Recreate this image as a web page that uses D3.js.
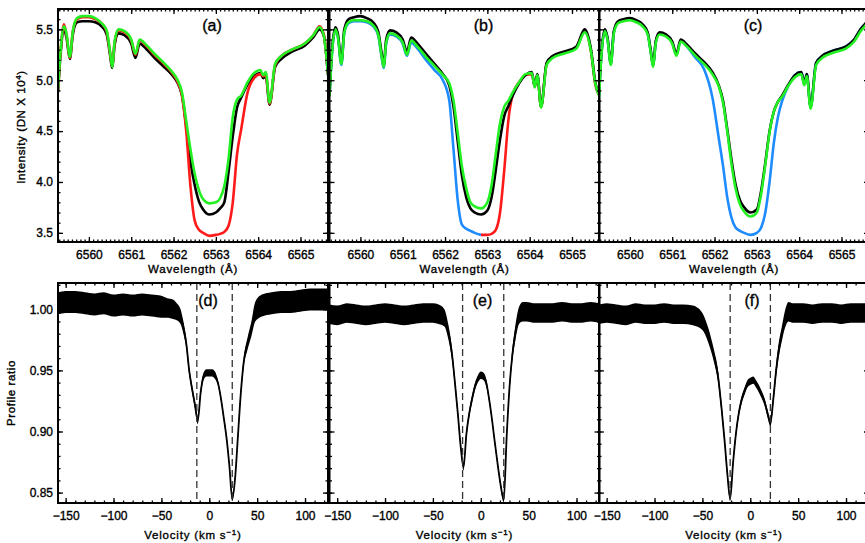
<!DOCTYPE html>
<html>
<head>
<meta charset="utf-8">
<script src="https://cdn.jsdelivr.net/npm/d3@7"></script>
<style>
body { margin: 0; background: #fff; }
text { font-family: "Liberation Sans", Arial, sans-serif; fill: #000; stroke: #000; stroke-width: 0.35px; }
</style>
</head>
<body>
<svg width="865" height="543"></svg>
<script>
// ---- top row: H-alpha profiles (intensity, DN x 10^4) ----
var wavelength = [6559.27,6559.33,6559.41,6559.47,6559.55,6559.62,6559.72,6559.85,6560.00,6560.15,
  6560.30,6560.42,6560.49,6560.55,6560.61,6560.70,6560.85,6561.00,6561.10,6561.20,
  6561.35,6561.55,6561.75,6561.95,6562.10,6562.20,6562.30,6562.40,6562.50,6562.60,
  6562.70,6562.85,6563.00,6563.10,6563.20,6563.30,6563.40,6563.50,6563.60,6563.75,
  6563.90,6564.05,6564.12,6564.18,6564.27,6564.40,6564.55,6564.80,6565.10,6565.30,
  6565.45,6565.55,6565.65];

var blackA = [4.88,5.25,5.50,5.42,5.21,5.45,5.57,5.58,5.58,5.57,
  5.53,5.45,5.28,5.12,5.35,5.46,5.44,5.36,5.22,5.36,
  5.31,5.22,5.14,5.06,4.97,4.85,4.55,4.20,3.97,3.81,
  3.73,3.68,3.70,3.74,3.80,4.10,4.45,4.73,4.83,4.96,
  5.04,5.07,5.02,5.04,4.76,5.13,5.21,5.28,5.34,5.42,
  5.50,5.44,5.05];
var redA = [4.90,5.28,5.55,5.45,5.22,5.48,5.60,5.62,5.62,5.60,
  5.56,5.48,5.30,5.14,5.38,5.49,5.47,5.39,5.25,5.39,
  5.34,5.25,5.17,5.08,4.98,4.85,4.50,3.96,3.62,3.53,
  3.50,3.47,3.48,3.49,3.51,3.57,3.80,4.27,4.52,4.88,
  5.02,5.06,5.04,5.05,4.77,5.15,5.24,5.30,5.36,5.44,
  5.53,5.45,5.06];
var greenA = [4.90,5.28,5.53,5.46,5.23,5.48,5.61,5.63,5.63,5.61,
  5.56,5.49,5.31,5.13,5.39,5.50,5.48,5.40,5.26,5.40,
  5.35,5.26,5.18,5.09,5.00,4.88,4.60,4.32,4.08,3.92,
  3.83,3.79,3.80,3.84,3.96,4.23,4.64,4.81,4.85,4.98,
  5.07,5.10,5.05,5.08,4.78,5.16,5.24,5.30,5.36,5.44,
  5.52,5.44,5.05];

var blackB = [4.86,5.30,5.52,5.45,5.18,5.50,5.60,5.62,5.63,5.61,
  5.57,5.48,5.30,5.15,5.40,5.49,5.47,5.40,5.28,5.42,
  5.36,5.26,5.16,5.06,4.95,4.74,4.40,4.06,3.85,3.74,
  3.70,3.68,3.72,3.85,4.12,4.42,4.65,4.75,4.85,4.97,
  5.05,5.08,4.94,5.06,4.74,5.17,5.24,5.28,5.33,5.50,
  5.30,4.98,4.85];
var greenB = [4.84,5.27,5.50,5.42,5.16,5.47,5.57,5.59,5.59,5.58,
  5.54,5.45,5.27,5.13,5.37,5.46,5.44,5.37,5.25,5.39,
  5.33,5.23,5.14,5.05,4.97,4.80,4.48,4.15,3.94,3.80,
  3.76,3.74,3.80,3.97,4.28,4.58,4.74,4.80,4.88,4.98,
  5.06,5.07,4.93,5.05,4.73,5.15,5.22,5.26,5.31,5.47,
  5.28,4.97,4.84];
// reference profile of panel (b): blue on the blue wing, red on the red wing
var lowB = [4.84,5.27,5.49,5.42,5.15,5.47,5.56,5.58,5.58,5.57,
  5.53,5.44,5.26,5.12,5.36,5.45,5.43,5.36,5.24,5.37,
  5.31,5.20,5.10,5.00,4.80,4.32,3.82,3.58,3.54,3.52,
  3.50,3.48,3.48,3.49,3.53,3.70,4.12,4.62,4.86,4.98,
  5.05,5.06,4.94,5.05,4.74,5.16,5.23,5.27,5.32,5.48,
  5.28,4.96,4.85];
var splitB = 6562.85;

var blackC = [4.85,5.28,5.50,5.42,5.17,5.48,5.58,5.60,5.61,5.59,
  5.55,5.47,5.30,5.15,5.38,5.47,5.45,5.38,5.26,5.40,
  5.35,5.26,5.18,5.08,4.95,4.80,4.52,4.22,3.97,3.82,
  3.75,3.70,3.73,3.91,4.19,4.50,4.69,4.79,4.85,4.96,
  5.05,5.08,4.97,5.06,4.74,5.17,5.24,5.29,5.33,5.40,
  5.50,5.55,5.60];
var greenC = [4.83,5.26,5.48,5.40,5.15,5.46,5.56,5.58,5.59,5.57,
  5.53,5.45,5.28,5.13,5.36,5.45,5.43,5.36,5.24,5.38,
  5.33,5.24,5.16,5.06,4.94,4.78,4.50,4.18,3.93,3.78,
  3.71,3.66,3.70,3.88,4.17,4.49,4.69,4.79,4.84,4.95,
  5.03,5.06,4.95,5.04,4.72,5.15,5.22,5.27,5.31,5.38,
  5.48,5.53,5.58];
var blueC = [4.84,5.27,5.49,5.41,5.16,5.47,5.57,5.59,5.60,5.58,
  5.54,5.46,5.29,5.14,5.37,5.46,5.44,5.37,5.25,5.39,
  5.33,5.22,5.11,4.83,4.43,4.16,3.85,3.65,3.55,3.52,
  3.50,3.48,3.50,3.55,3.70,4.00,4.38,4.64,4.80,4.95,
  5.05,5.08,4.97,5.06,4.74,5.17,5.24,5.29,5.33,5.40,
  5.50,5.55,5.60];

// ---- bottom row: profile ratio vs velocity ----
var velocity = [-158,-150,-140,-130,-120,-110,-100,-90,-80,-70,
  -60,-50,-44,-38,-34,-30,-27,-24,-21,-18,
  -15,-12,-9,-6,-3,0,3,6,9,12,
  15,18,21,24,27,30,33,36,40,44,
  48,55,65,75,85,95,105,115,124];

var ratioD = [1.005,1.006,1.006,1.005,1.004,1.005,1.003,1.004,1.003,1.004,
  1.003,1.002,1.001,1.000,0.998,0.994,0.985,0.972,0.950,0.935,
  0.922,0.909,0.932,0.945,0.948,0.948,0.948,0.946,0.940,0.928,
  0.912,0.895,0.872,0.845,0.862,0.897,0.932,0.957,0.972,0.984,
  0.998,1.003,1.005,1.006,1.006,1.007,1.008,1.008,1.008];
var noiseD = [0.009,0.009,0.009,0.009,0.009,0.009,0.009,0.009,0.009,0.009,
  0.009,0.009,0.008,0.008,0.007,0.006,0.005,0.004,0.003,0.003,
  0.003,0.003,0.003,0.003,0.003,0.003,0.003,0.003,0.002,0.002,
  0.002,0.002,0.002,0.002,0.002,0.003,0.003,0.004,0.005,0.006,
  0.008,0.009,0.009,0.009,0.009,0.009,0.009,0.009,0.009];

var ratioE = [0.996,0.995,0.997,0.996,0.995,0.996,0.997,0.996,0.995,0.996,
  0.997,0.997,0.996,0.993,0.982,0.963,0.940,0.915,0.888,0.871,
  0.898,0.915,0.927,0.937,0.943,0.946,0.945,0.939,0.925,0.908,
  0.889,0.871,0.855,0.844,0.895,0.936,0.963,0.980,0.995,0.998,
  0.998,0.997,0.997,0.997,0.998,0.997,0.997,0.998,0.997];
var noiseE = [0.008,0.008,0.008,0.008,0.008,0.008,0.008,0.008,0.008,0.008,
  0.008,0.008,0.008,0.007,0.006,0.005,0.004,0.003,0.003,0.003,
  0.003,0.003,0.003,0.003,0.003,0.003,0.003,0.003,0.002,0.002,
  0.002,0.002,0.002,0.002,0.003,0.004,0.005,0.006,0.007,0.008,
  0.008,0.008,0.008,0.008,0.008,0.008,0.008,0.008,0.008];

var ratioF = [0.996,0.997,0.996,0.995,0.997,0.996,0.996,0.997,0.996,0.996,
  0.995,0.990,0.979,0.962,0.947,0.919,0.894,0.866,0.845,0.874,
  0.898,0.915,0.926,0.933,0.939,0.941,0.942,0.939,0.935,0.930,
  0.924,0.915,0.907,0.926,0.950,0.968,0.980,0.991,0.998,0.997,
  0.997,0.997,0.996,0.997,0.997,0.996,0.997,0.997,0.997];
var noiseF = [0.008,0.008,0.008,0.008,0.008,0.008,0.008,0.008,0.008,0.008,
  0.008,0.007,0.006,0.005,0.005,0.004,0.003,0.003,0.002,0.003,
  0.003,0.003,0.003,0.003,0.003,0.003,0.003,0.003,0.003,0.003,
  0.003,0.003,0.003,0.004,0.005,0.006,0.006,0.007,0.008,0.008,
  0.008,0.008,0.008,0.008,0.008,0.008,0.008,0.008,0.008];

var dashD = [-13, 24], dashE = [-19, 24], dashF = [-21, 21];

var topLetters = ['(a)', '(b)', '(c)'];
var botLetters = ['(d)', '(e)', '(f)'];
var wlTicks = [6560, 6561, 6562, 6563, 6564, 6565];
var intTicks = [3.5, 4.0, 4.5, 5.0, 5.5];
var velTicks = [-150, -100, -50, 0, 50, 100];
var ratioTicks = [0.85, 0.90, 0.95, 1.00];

// ---- layout ----
var svg = d3.select('svg');
var defs = svg.append('defs');
var lefts = [58, 329.5, 599], W = 270;
var TOP0 = 9, TOP1 = 242, BOT0 = 283, BOT1 = 503;

var yInt = d3.scaleLinear().domain([3.41, 5.70]).range([TOP1, TOP0]);
var yRat = d3.scaleLinear().domain([0.8415, 1.0215]).range([BOT1, BOT0]);

var colBlack = '#000', colRed = '#ff1a1a', colGreen = '#22f022', colBlue = '#1e8cff';
var FONT = '"Liberation Sans", Arial, sans-serif';

function clip(id, x, y0, y1) {
  defs.append('clipPath').attr('id', id)
    .append('rect').attr('x', x).attr('y', y0).attr('width', W).attr('height', y1 - y0);
}

function addAxes(g, x, y, y0, y1, xMajor, xMinor, yMajor, yMinor, showX, showY, xFmt, yFmt) {
  var l = x.range()[0];
  function strip(s) { s.select('.domain').remove(); s.selectAll('line').attr('stroke', '#000').attr('stroke-width', 1.3); }
  function style(s) {
    s.selectAll('text').style('font-size', '12px').style('font-family', FONT)
      .attr('fill', '#000').attr('stroke', '#000').attr('stroke-width', 0.35);
  }
  // bottom
  g.append('g').attr('transform', 'translate(0,' + y1 + ')')
    .call(d3.axisBottom(x).tickValues(xMinor).tickSize(-2.5).tickFormat('')).call(strip);
  g.append('g').attr('transform', 'translate(0,' + y1 + ')')
    .call(d3.axisBottom(x).tickValues(xMajor).tickSize(-5).tickPadding(8).tickFormat(showX ? xFmt : ''))
    .call(strip).call(style);
  // top
  g.append('g').attr('transform', 'translate(0,' + y0 + ')')
    .call(d3.axisTop(x).tickValues(xMinor).tickSize(-2.5).tickFormat('')).call(strip);
  g.append('g').attr('transform', 'translate(0,' + y0 + ')')
    .call(d3.axisTop(x).tickValues(xMajor).tickSize(-5).tickFormat('')).call(strip);
  // left
  g.append('g').attr('transform', 'translate(' + l + ',0)')
    .call(d3.axisLeft(y).tickValues(yMinor).tickSize(-2.5).tickFormat('')).call(strip);
  g.append('g').attr('transform', 'translate(' + l + ',0)')
    .call(d3.axisLeft(y).tickValues(yMajor).tickSize(-5).tickPadding(5).tickFormat(showY ? yFmt : ''))
    .call(strip).call(style);
  // right
  g.append('g').attr('transform', 'translate(' + (l + W) + ',0)')
    .call(d3.axisRight(y).tickValues(yMinor).tickSize(-2.5).tickFormat('')).call(strip);
  g.append('g').attr('transform', 'translate(' + (l + W) + ',0)')
    .call(d3.axisRight(y).tickValues(yMajor).tickSize(-5).tickFormat('')).call(strip);
  // frame
  g.append('rect').attr('x', l).attr('y', y0).attr('width', W).attr('height', y1 - y0)
    .attr('fill', 'none').attr('stroke', '#000').attr('stroke-width', 2);
}

var wlMinor = d3.range(6559.3, 6565.65, 0.1);
var intMinor = d3.range(3.5, 5.71, 0.1);
var velMinor = d3.range(-150, 125, 10);
var ratMinor = d3.range(0.85, 1.021, 0.01);

// ---- top panels ----
var topSeries = [
  [{v: blackA, c: colBlack}, {v: redA, c: colRed}, {v: greenA, c: colGreen}],
  [{v: lowB, c: colBlue, part: 'blue'}, {v: lowB, c: colRed, part: 'red'}, {v: blackB, c: colBlack}, {v: greenB, c: colGreen}],
  [{v: blueC, c: colBlue}, {v: blackC, c: colBlack}, {v: greenC, c: colGreen}]
];

topSeries.forEach(function(series, p) {
  var x = d3.scaleLinear().domain([6559.27, 6565.65]).range([lefts[p], lefts[p] + W]);
  clip('ct' + p, lefts[p], TOP0, TOP1);
  var g = svg.append('g');
  var plot = g.append('g').attr('clip-path', 'url(#ct' + p + ')');
  var line = d3.line().x(function(d) { return x(d[0]); }).y(function(d) { return yInt(d[1]); })
    .curve(d3.curveMonotoneX);
  series.forEach(function(s) {
    var pts = wavelength.map(function(w, i) { return [w, s.v[i]]; });
    if (s.part === 'blue') pts = pts.filter(function(d) { return d[0] <= splitB; });
    if (s.part === 'red') pts = pts.filter(function(d) { return d[0] >= splitB; });
    plot.append('path').attr('d', line(pts)).attr('fill', 'none')
      .attr('stroke', s.c).attr('stroke-width', 2.6).attr('stroke-linejoin', 'round');
  });
  addAxes(g, x, yInt, TOP0, TOP1, wlTicks, wlMinor, intTicks, intMinor, true, p === 0,
    d3.format('d'), d3.format('.1f'));
  g.append('text').attr('x', lefts[p] + 154).attr('y', 30.5).attr('text-anchor', 'middle')
    .style('font-size', '16px').text(topLetters[p]);
  g.append('text').attr('x', lefts[p] + W / 2).attr('y', 273).attr('text-anchor', 'middle')
    .style('font-size', '11.5px').style('letter-spacing', '0.8px').text('Wavelength (Å)');
});

// ---- bottom panels ----
var botSeries = [
  {r: ratioD, n: noiseD, dash: dashD, lx: 150},
  {r: ratioE, n: noiseE, dash: dashE, lx: 153},
  {r: ratioF, n: noiseF, dash: dashF, lx: 153}
];

botSeries.forEach(function(s, p) {
  var x = d3.scaleLinear().domain([-158, 124]).range([lefts[p], lefts[p] + W]);
  clip('cb' + p, lefts[p], BOT0, BOT1);
  var g = svg.append('g');
  var plot = g.append('g').attr('clip-path', 'url(#cb' + p + ')');
  var pts = velocity.map(function(v, i) { return {v: v, r: s.r[i], n: s.n[i]}; });
  var area = d3.area().x(function(d) { return x(d.v); })
    .y0(function(d) { return yRat(d.r - d.n); }).y1(function(d) { return yRat(d.r + d.n); })
    .curve(d3.curveMonotoneX);
  var line = d3.line().x(function(d) { return x(d.v); }).y(function(d) { return yRat(d.r); })
    .curve(d3.curveMonotoneX);
  plot.append('path').attr('d', area(pts)).attr('fill', '#000');
  plot.append('path').attr('d', line(pts)).attr('fill', 'none').attr('stroke', '#000').attr('stroke-width', 1.8);
  plot.selectAll('line.dash').data(s.dash).enter().append('line').attr('class', 'dash')
    .attr('x1', function(d) { return x(d); }).attr('x2', function(d) { return x(d); })
    .attr('y1', BOT0).attr('y2', BOT1)
    .attr('stroke', '#333').attr('stroke-width', 1.3).attr('stroke-dasharray', '7,4');
  addAxes(g, x, yRat, BOT0, BOT1, velTicks, velMinor, ratioTicks, ratMinor, true, p === 0,
    d3.format('d'), d3.format('.2f'));
  g.append('text').attr('x', lefts[p] + s.lx).attr('y', 305.5).attr('text-anchor', 'middle')
    .style('font-size', '16px').text(botLetters[p]);
  var t = g.append('text').attr('x', lefts[p] + W / 2).attr('y', 539).attr('text-anchor', 'middle')
    .style('font-size', '11.5px').style('letter-spacing', '0.8px');
  t.append('tspan').text('Velocity (km s');
  t.append('tspan').attr('dy', -4).style('font-size', '8px').text('−1');
  t.append('tspan').attr('dy', 4).text(')');
});

// ---- y titles ----
var yt = svg.append('text').attr('transform', 'translate(25,127) rotate(-90)')
  .attr('text-anchor', 'middle').style('font-size', '11.5px').style('letter-spacing', '0.6px');
yt.append('tspan').text('Intensity (DN X 10');
yt.append('tspan').attr('dy', -4).style('font-size', '8px').text('4');
yt.append('tspan').attr('dy', 4).text(')');

svg.append('text').attr('transform', 'translate(15,393) rotate(-90)')
  .attr('text-anchor', 'middle').style('font-size', '11.5px').style('letter-spacing', '0.6px')
  .text('Profile ratio');
</script>
</body>
</html>
